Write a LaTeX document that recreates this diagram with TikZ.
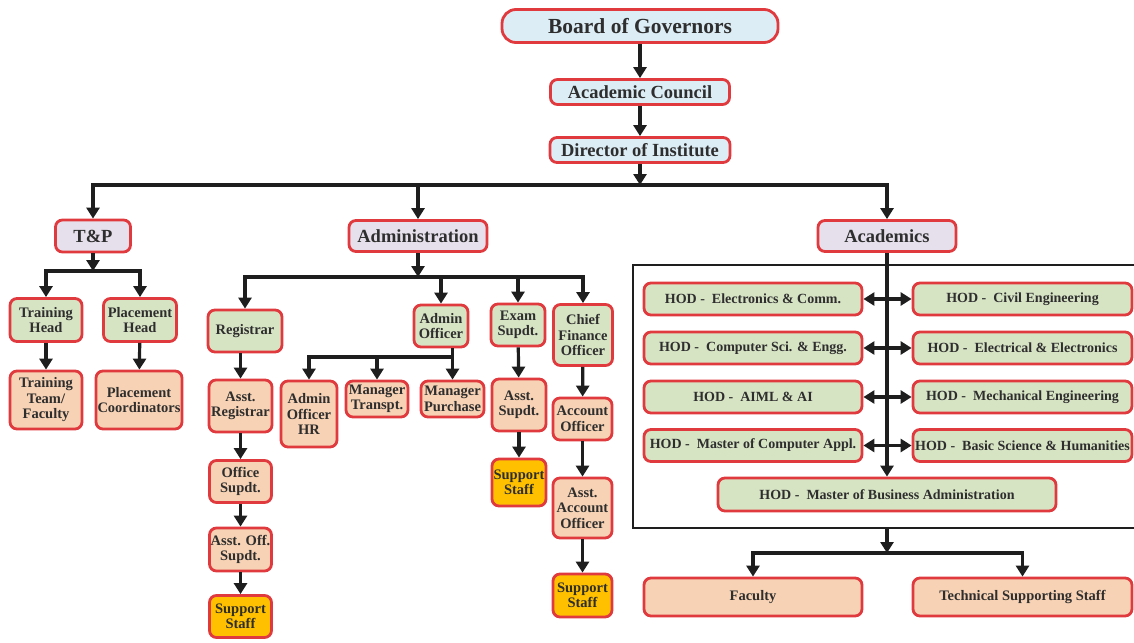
\documentclass[tikz,border=0pt]{standalone}
\usepackage{fontspec}
\setmainfont{Liberation Serif}
\usetikzlibrary{arrows.meta}

\definecolor{bordred}{HTML}{E0393E}
\definecolor{govblue}{HTML}{DDEDF5}
\definecolor{seclav}{HTML}{E6E0EC}
\definecolor{headgrn}{HTML}{D7E4C4}
\definecolor{staffpch}{HTML}{F7D2B4}
\definecolor{supgold}{HTML}{FFC000}
\definecolor{txtgray}{HTML}{2E2E2E}
\definecolor{linkblk}{HTML}{1E1E1E}

\tikzset{
  unit/.style={draw=bordred, line width=2.8pt, rounded corners=7pt, align=center,
    inner sep=1pt, text=txtgray, font=\bfseries\fontsize{14.5}{15.5}\selectfont},
  topunit/.style={unit, fill=govblue, font=\bfseries\fontsize{18.5}{21}\selectfont},
  secunit/.style={unit, fill=seclav, font=\bfseries\fontsize{18.5}{21}\selectfont},
  headunit/.style={unit, fill=headgrn},
  hodunit/.style={headunit, font=\bfseries\fontsize{14}{16}\selectfont},
  staffunit/.style={unit, fill=staffpch},
  supunit/.style={unit, fill=supgold},
  sz/.style 2 args={minimum width=#1pt, minimum height=#2pt},
  link/.style={draw=linkblk, line width=3.2pt, -{Triangle[length=11pt,width=13pt]}},
  twoway/.style={draw=linkblk, line width=3.2pt,
    {Triangle[length=11pt,width=13pt]}-{Triangle[length=11pt,width=13pt]}},
}

\begin{document}
\begin{tikzpicture}[x=1pt, y=-1pt]
\useasboundingbox (0,0) rectangle (1134,642);

% top of the chart
\node[topunit, sz={276}{33}, rounded corners=14pt, font=\bfseries\fontsize{21.5}{24}\selectfont] (gov) at (640,26) {Board of Governors};
\node[topunit, sz={179}{25}] (acc) at (640,92) {Academic Council};
\node[topunit, sz={180}{25}] (dir) at (640,150) {Director of Institute};

\node[secunit, sz={75}{32}] (tp) at (93,236) {T\&P};
\node[secunit, sz={138}{31}] (adm) at (418,236) {Administration};
\node[secunit, sz={138}{31}] (acad) at (887,236) {Academics};

% T&P
\node[headunit, sz={72}{43}] (trh) at (46,320) {Training\\Head};
\node[headunit, sz={73}{43}] (plh) at (140,320) {Placement\\Head};
\node[staffunit, sz={72}{58}] (trt) at (46,400) {Training\\Team/\\Faculty};
\node[staffunit, sz={86}{58}] (plc) at (139,400) {Placement\\Coordinators};

% Administration
\node[headunit, sz={74}{42}] (reg) at (245,331) {Registrar};
\node[headunit, sz={54}{42}] (aof) at (441,326) {Admin\\Officer};
\node[headunit, sz={54}{42}] (exs) at (518,325) {Exam\\Supdt.};
\node[headunit, sz={59}{61}] (cfo) at (583,335) {Chief\\Finance\\Officer};

\node[staffunit, sz={63}{52}] (asr) at (240.5,406) {Asst.\\Registrar};
\node[staffunit, sz={56}{66}] (ahr) at (309,414) {Admin\\Officer\\HR};
\node[staffunit, sz={62}{36}] (mtr) at (377,399) {Manager\\Transpt.};
\node[staffunit, sz={63}{36}] (mpur) at (452.5,399) {Manager\\Purchase};
\node[staffunit, sz={62}{42}] (ofs) at (240.5,481.5) {Office\\Supdt.};
\node[staffunit, sz={62}{43}] (aos) at (240.5,549.5) {Asst. Off.\\Supdt.};
\node[supunit, sz={62}{42}] (sst1) at (240.5,616.5) {Support\\Staff};

\node[staffunit, sz={54}{52}] (asp) at (519,405) {Asst.\\Supdt.};
\node[supunit, sz={54}{47}] (sst2) at (519,482.5) {Support\\Staff};
\node[staffunit, sz={59}{42}] (ao) at (582.5,419) {Account\\Officer};
\node[staffunit, sz={59}{60}] (aao) at (582.5,508) {Asst.\\Account\\Officer};
\node[supunit, sz={59}{43}] (sst3) at (582.5,595.5) {Support\\Staff};

% Academics
\draw[draw=linkblk, line width=2.8pt] (633,265) rectangle (1140,528);
\foreach \i/\lt/\rt/\y in {1/Electronics \& Comm./Civil Engineering/299,
    2/Computer Sci. \& Engg./Electrical \& Electronics/348,
    3/AIML \& AI/Mechanical Engineering/397,
    4/Master of Computer Appl./Basic Science \& Humanities/445.5}{
  \node[hodunit, sz={218}{32}] (hl\i) at (753,\y) {HOD -\enspace\lt};
  \node[hodunit, sz={219}{32}] (hr\i) at (1022.5,\y) {HOD -\enspace\rt};
}
\node[hodunit, sz={338}{33}] (mba) at (887,494.5) {HOD -\enspace Master of Business Administration};
\node[staffunit, sz={218}{38}] (fac) at (753,597) {Faculty};
\node[staffunit, sz={219}{38}] (tss) at (1022.5,597) {Technical Supporting Staff};

% connectors
\coordinate (dirbus) at (640,185);
\draw[link] (gov) -- (acc);
\draw[link] (acc) -- (dir);
\draw[link] (dir) -- (dirbus);
\draw[link] (dirbus) -| (tp);
\draw[link] (dirbus) -| (adm);
\draw[link] (dirbus) -| (acad);

\coordinate (tpbus) at (93,271);
\draw[link] (tp) -- (tpbus);
\draw[link] (tpbus) -| (trh);
\draw[link] (tpbus) -| (plh);
\draw[link] (trh) -- (trt);
\draw[link] (plh) -- (plc);

\coordinate (admbus) at (418,277);
\draw[link] (adm) -- (admbus);
\foreach \n in {reg,aof,exs,cfo}
  \draw[link] (admbus) -| (\n);
\draw[link] (reg.south -| asr.north) -- (asr);
\draw[link] (asr) -- (ofs);
\draw[link] (ofs) -- (aos);
\draw[link] (aos) -- (sst1);

\coordinate (aofbus) at (452.5,357);
\draw[link] (aof.south -| mpur.north) -- (mpur);
\draw[link] (aofbus) -| (ahr);
\draw[link] (aofbus) -| (mtr);

\draw[link] (exs) -- (asp);
\draw[link] (asp) -- (sst2);
\draw[link] (cfo) -- (ao);
\draw[link] (ao) -- (aao);
\draw[link] (aao) -- (sst3);

\draw[link] (acad) -- (mba);
\foreach \i in {1,...,4}
  \draw[twoway] (hl\i) -- (hr\i);
\coordinate (acbot) at (887,528);
\coordinate (acbus) at (887,553);
\draw[link] (acbot) -- (acbus);
\draw[link] (acbus) -| (fac);
\draw[link] (acbus) -| (tss);
\end{tikzpicture}
\end{document}
